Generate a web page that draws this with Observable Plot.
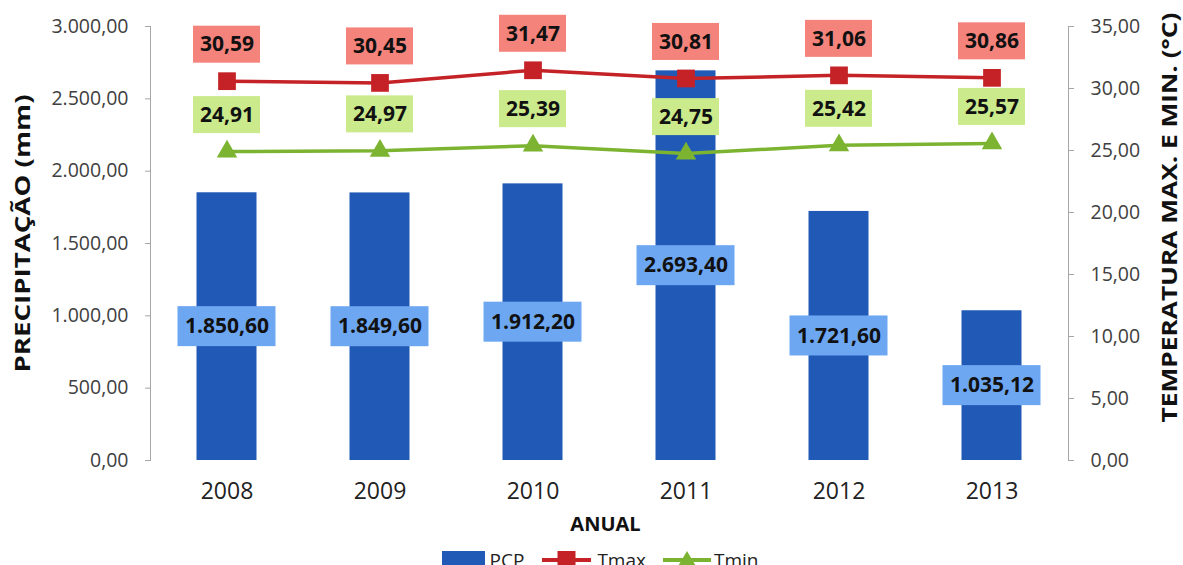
<!DOCTYPE html>
<html>
<head>
<meta charset="utf-8">
<script src="https://cdn.jsdelivr.net/npm/d3@7"></script>
<script src="https://cdn.jsdelivr.net/npm/@observablehq/plot@0.6"></script>
<style>
  html, body { margin: 0; padding: 0; background: #fff; }
  #chart { width: 1183px; height: 565px; overflow: hidden; font-family: 'Open Sans', sans-serif; }
  #legend { display: flex; justify-content: center; align-items: center; height: 40px; line-height: 40px;
            font-size: 19px; color: #222; padding-left: 17px; }
  #legend .item { display: flex; align-items: center; }
  #legend .sw { margin-right: 5px; }
</style>
</head>
<body>
<div id="chart"></div>
<script>
const years = ["2008", "2009", "2010", "2011", "2012", "2013"];
const pcp = [1850.60, 1849.60, 1912.20, 2693.40, 1721.60, 1035.12];
const tmax = [30.59, 30.45, 31.47, 30.81, 31.06, 30.86];
const tmin = [24.91, 24.97, 25.39, 24.75, 25.42, 25.57];
const pcpTicks = [0, 500, 1000, 1500, 2000, 2500, 3000];
const tempTicks = [0, 5, 10, 15, 20, 25, 30, 35];
const pcpMax = 3000, tempMax = 35;
const titleLeft = "PRECIPITAÇÃO (mm)";
const titleRight = "TEMPERATURA MAX. E MIN. (°C)";
const titleX = "ANUAL";

const rows = years.map((year, i) => ({year, pcp: pcp[i], tmax: tmax[i], tmin: tmin[i]}));
const loc = d3.formatLocale({decimal: ",", thousands: ".", grouping: [3], currency: ["", ""]});
const fmt = loc.format(",.2f");
const k = pcpMax / tempMax;

const W = 1183, H = 540, mT = 26, mB = 80, mL = 150, mR = 115;
const u = pcpMax / (H - mT - mB); // data units per pixel

const cBar = "#2159B6", cBarLbl = "#6DA7F2";
const cMax = "#C42226", cMaxLbl = "#F4837B";
const cMin = "#7CB431", cMinLbl = "#CAEA8C";
const axisGray = "#A6A6A6", tickText = "#404040";

const plot = Plot.plot({
  width: W, height: H,
  marginTop: mT, marginBottom: mB, marginLeft: mL, marginRight: mR,
  style: {fontFamily: "'Open Sans', sans-serif", background: "#fff"},
  x: {type: "band", domain: years, padding: 0},
  y: {domain: [0, pcpMax]},
  marks: [
    Plot.barY(rows, {x: "year", y: "pcp", fill: cBar, insetLeft: 46.5, insetRight: 46.5}),
    Plot.line(rows, {x: "year", y: d => d.tmax * k, stroke: cMax, strokeWidth: 3.5}),
    Plot.dot(rows, {x: "year", y: d => d.tmax * k, symbol: "square", r: 10, fill: cMax}),
    Plot.line(rows, {x: "year", y: d => d.tmin * k, stroke: cMin, strokeWidth: 3.5}),
    Plot.dot(rows, {x: "year", y: d => d.tmin * k, symbol: "triangle", r: 7.6, fill: cMin}),
    // data label boxes
    Plot.barY(rows, {x: "year", y1: d => d.tmax * k + 18 * u, y2: d => d.tmax * k + 55 * u, fill: cMaxLbl, insetLeft: 43, insetRight: 43}),
    Plot.barY(rows, {x: "year", y1: d => d.tmin * k + 18 * u, y2: d => d.tmin * k + 55 * u, fill: cMinLbl, insetLeft: 43, insetRight: 43}),
    Plot.barY(rows, {x: "year", y1: d => d.pcp / 2 - 20 * u, y2: d => d.pcp / 2 + 20 * u, fill: cBarLbl, insetLeft: 27.5, insetRight: 27.5}),
    Plot.text(rows, {x: "year", y: d => d.tmax * k + 36.5 * u, text: d => fmt(d.tmax), fontSize: 21, fontWeight: "bold", fill: "#111"}),
    Plot.text(rows, {x: "year", y: d => d.tmin * k + 36.5 * u, text: d => fmt(d.tmin), fontSize: 21, fontWeight: "bold", fill: "#111"}),
    Plot.text(rows, {x: "year", y: d => d.pcp / 2, text: d => fmt(d.pcp), fontSize: 21, fontWeight: "bold", fill: "#111"}),
    // axes
    Plot.axisY({anchor: "left", ticks: pcpTicks, tickFormat: fmt, tickSize: 5, tickPadding: 17,
                fontSize: 19.5, stroke: axisGray, fill: tickText, label: null}),
    Plot.axisY({anchor: "right", ticks: tempTicks.map(t => t * k), tickFormat: v => fmt(v / k), tickSize: 5, tickPadding: 17,
                fontSize: 19.5, stroke: axisGray, fill: tickText, label: null}),
    Plot.frame({anchor: "left", stroke: axisGray}),
    Plot.frame({anchor: "right", stroke: axisGray}),
    Plot.axisX({tickSize: 0, tickPadding: 22, fontSize: 23, fill: "#222", label: null}),
    // titles
    Plot.text([titleLeft], {frameAnchor: "left", text: d => d, dx: -128, dy: -10, rotate: -90, textAnchor: "middle",
                lineAnchor: "middle", fontSize: 22, fontWeight: "bold", fill: "#111"}),
    Plot.text([titleRight], {frameAnchor: "right", text: d => d, dx: 102, dy: -26, rotate: -90, textAnchor: "middle",
                lineAnchor: "middle", fontSize: 21, fontWeight: "bold", fill: "#111"}),
    Plot.text([titleX], {frameAnchor: "bottom", text: d => d, dy: 64, dx: -4, lineAnchor: "middle", textAnchor: "middle",
                fontSize: 20, fontWeight: "bold", fill: "#111"})
  ]
});

// stretch the axis titles to the reference lengths
d3.select(plot).selectAll("text").each(function () {
  const t = this.textContent;
  if (t === titleLeft) d3.select(this).attr("textLength", 278).attr("lengthAdjust", "spacingAndGlyphs");
  if (t === titleRight) d3.select(this).attr("textLength", 410).attr("lengthAdjust", "spacingAndGlyphs");
});

const chart = document.getElementById("chart");
chart.appendChild(plot);

const legend = document.createElement("div");
legend.id = "legend";
legend.innerHTML = `
  <span class="item" style="margin-right:18px"><svg class="sw" width="43" height="18"><rect x="0" y="0" width="43" height="18" fill="${cBar}"/></svg>PCP</span>
  <span class="item" style="margin-right:17px"><svg class="sw" width="49" height="20" style="margin-right:6px"><line x1="0" y1="10" x2="49" y2="10" stroke="${cMax}" stroke-width="4"/><rect x="15.5" y="1" width="18" height="18" fill="${cMax}"/></svg>Tmax</span>
  <span class="item"><svg class="sw" width="48" height="20" style="margin-right:3px"><line x1="0" y1="10" x2="48" y2="10" stroke="${cMin}" stroke-width="4"/><path d="M24,1 L34,18 L14,18 Z" fill="${cMin}"/></svg>Tmin</span>`;
chart.appendChild(legend);
</script>
</body>
</html>
